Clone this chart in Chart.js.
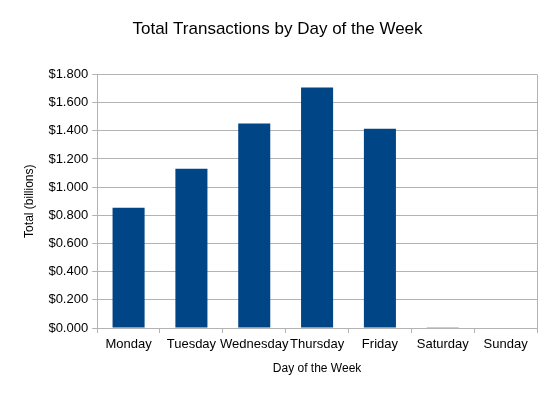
<!DOCTYPE html>
<html>
<head>
<meta charset="utf-8">
<script src="https://cdn.jsdelivr.net/npm/chart.js@4/dist/chart.umd.min.js"></script>
<style>
    html, body { margin: 0; padding: 0; background: #ffffff; }
    #wrap { width: 559px; height: 396px; }
</style>
</head>
<body>
<div id="wrap"><canvas id="chart" width="559" height="396"></canvas></div>
<script>
const days = ['Monday', 'Tuesday', 'Wednesday', 'Thursday', 'Friday', 'Saturday', 'Sunday'];
const totals = [0.853, 1.131, 1.451, 1.707, 1.415, 0.006, 0];

const gridColour = '#b3b3b3';
const barColour = '#004586';

// right edge of the plot area, like the spreadsheet frame
const rightBorder = {
    id: 'rightBorder',
    afterDraw(chart) {
        const a = chart.chartArea;
        const ctx = chart.ctx;
        ctx.save();
        ctx.strokeStyle = gridColour;
        ctx.lineWidth = 1;
        ctx.beginPath();
        ctx.moveTo(Math.round(a.right) + 0.5, a.top);
        ctx.lineTo(Math.round(a.right) + 0.5, a.bottom + 5);
        ctx.stroke();
        ctx.restore();
    }
};

Chart.defaults.font.family = '"Liberation Sans", Arial, sans-serif';
Chart.defaults.color = '#000000';

new Chart(document.getElementById('chart').getContext('2d'), {
    type: 'bar',
    data: {
        labels: days,
        datasets: [{
            data: totals,
            backgroundColor: barColour,
            categoryPercentage: 1.0,
            barPercentage: 0.51
        }]
    },
    options: {
        responsive: false,
        animation: false,
        layout: { padding: { left: 18, right: 22, top: 0, bottom: 16 } },
        plugins: {
            legend: { display: false },
            tooltip: { enabled: false },
            title: {
                display: true,
                text: 'Total Transactions by Day of the Week',
                font: { size: 17, weight: 'normal' },
                color: '#000000',
                padding: { top: 19, bottom: 35 }
            }
        },
        scales: {
            x: {
                offset: true,
                grid: {
                    offset: true,
                    drawOnChartArea: false,
                    color: gridColour,
                    tickLength: 5
                },
                border: { color: gridColour },
                ticks: { font: { size: 13 }, maxRotation: 0, autoSkip: false, padding: 4 },
                title: {
                    display: true,
                    text: 'Day of the Week',
                    font: { size: 12 },
                    padding: { top: 5 }
                }
            },
            y: {
                min: 0,
                max: 1.8,
                ticks: {
                    stepSize: 0.2,
                    font: { size: 13 },
                    padding: 4,
                    callback: v => '$' + v.toFixed(3)
                },
                grid: { color: gridColour, tickLength: 5 },
                border: { color: gridColour },
                title: {
                    display: true,
                    text: 'Total (billions)',
                    font: { size: 12 },
                    padding: { bottom: 8 }
                }
            }
        }
    },
    plugins: [rightBorder]
});
</script>
</body>
</html>
